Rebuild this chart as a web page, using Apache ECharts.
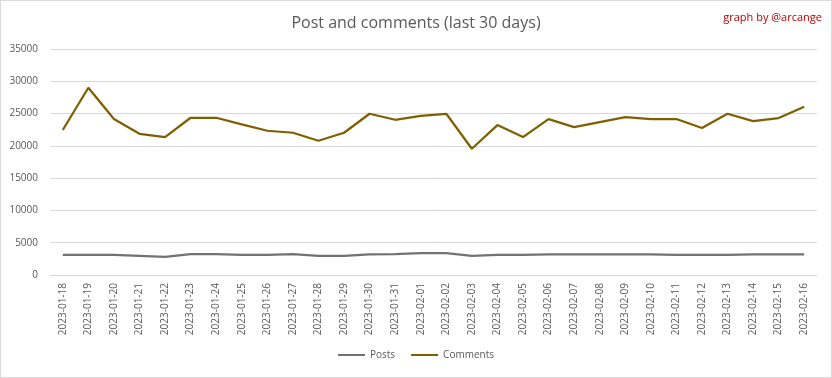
<!DOCTYPE html>
<html>
<head>
<meta charset="utf-8">
<script src="https://cdn.jsdelivr.net/npm/echarts@6/dist/echarts.min.js"></script>
<style>
  html, body { margin: 0; padding: 0; background: #fff; }
  #chart { width: 832px; height: 378px; box-sizing: border-box; border: 1px solid #d9d9d9; }
</style>
</head>
<body>
<div id="chart"></div>
<script>
const dates = [
  '2023-01-18', '2023-01-19', '2023-01-20', '2023-01-21', '2023-01-22', '2023-01-23',
  '2023-01-24', '2023-01-25', '2023-01-26', '2023-01-27', '2023-01-28', '2023-01-29',
  '2023-01-30', '2023-01-31', '2023-02-01', '2023-02-02', '2023-02-03', '2023-02-04',
  '2023-02-05', '2023-02-06', '2023-02-07', '2023-02-08', '2023-02-09', '2023-02-10',
  '2023-02-11', '2023-02-12', '2023-02-13', '2023-02-14', '2023-02-15', '2023-02-16'
];
const posts = [
  3100, 3100, 3100, 2950, 2800, 3250, 3250, 3100, 3100, 3250, 2950, 2950,
  3200, 3250, 3400, 3400, 2950, 3100, 3100, 3200, 3200, 3200, 3200, 3200,
  3100, 3100, 3100, 3200, 3200, 3200
];
const comments = [
  22450, 29000, 24150, 21870, 21360, 24350, 24350, 23330, 22340, 22030, 20790, 22030,
  24970, 24040, 24660, 24970, 19550, 23220, 21360, 24150, 22910, 23680, 24460, 24150,
  24150, 22760, 24970, 23840, 24300, 26050
];

const chart = echarts.init(document.getElementById('chart'));
const font = '"Open Sans", "Noto Sans", sans-serif';

chart.setOption({
  animation: false,
  title: [
    {
      text: 'Post and comments (last 30 days)',
      left: 'center',
      top: 9,
      textStyle: { fontFamily: font, fontSize: 16, fontWeight: 'normal', color: '#595959' }
    },
    {
      text: 'graph by @arcange',
      right: 4,
      top: 6,
      textStyle: { fontFamily: font, fontSize: 11, fontWeight: 'normal', color: '#c00000' }
    }
  ],
  legend: {
    bottom: 12,
    left: 'center',
    itemWidth: 27,
    itemHeight: 2,
    itemGap: 16,
    icon: 'rect',
    textStyle: { fontFamily: font, fontSize: 10, color: '#595959' },
    data: ['Posts', 'Comments']
  },
  grid: { left: 49, right: 14, top: 48, bottom: 102 },
  xAxis: {
    type: 'category',
    data: dates,
    boundaryGap: true,
    axisLine: { lineStyle: { color: '#d9d9d9' } },
    axisTick: { show: false },
    axisLabel: {
      rotate: 90,
      interval: 0,
      margin: 8,
      fontFamily: font,
      fontSize: 10,
      color: '#595959'
    }
  },
  yAxis: {
    type: 'value',
    min: 0,
    max: 35000,
    interval: 5000,
    axisLine: { show: false },
    axisTick: { show: false },
    axisLabel: {
      fontFamily: font,
      fontSize: 10,
      color: '#595959',
      margin: 12,
      formatter: (v) => String(v)
    },
    splitLine: { lineStyle: { color: '#d9d9d9' } }
  },
  series: [
    {
      name: 'Posts',
      type: 'line',
      data: posts,
      symbol: 'none',
      lineStyle: { width: 2.25, color: '#767171' },
      itemStyle: { color: '#767171' }
    },
    {
      name: 'Comments',
      type: 'line',
      data: comments,
      symbol: 'none',
      lineStyle: { width: 2.25, color: '#7f6000' },
      itemStyle: { color: '#7f6000' }
    }
  ]
});
</script>
</body>
</html>
